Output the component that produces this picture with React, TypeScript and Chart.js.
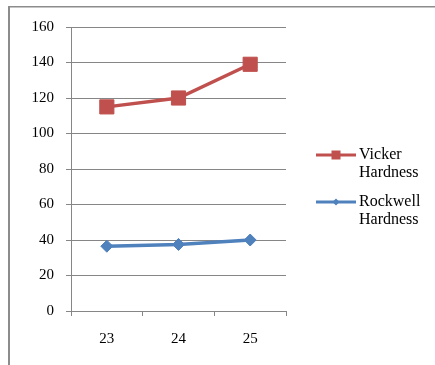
import React, { useEffect, useRef } from "react";
import { Chart, registerables } from "chart.js";

Chart.register(...registerables);

// Hardness readings per sample
const categories = ["23", "24", "25"];
const vickerHardness = [115, 120, 139];
const rockwellHardness = [36.5, 37.5, 40];
const seriesLabels = [
  ["Vicker", "Hardness"],
  ["Rockwell", "Hardness"],
];
const yMin = 0;
const yMax = 160;
const yStep = 20;

const RED = "#C0504D";
const BLUE = "#4F81BD";
const GRID = "#868686";
const FONT = "'Liberation Serif'";

// Outer frame of the chart object
const framePlugin = {
  id: "frame",
  beforeDraw(chart: any) {
    const { ctx } = chart;
    ctx.save();
    ctx.fillStyle = "#ffffff";
    ctx.fillRect(0, 0, chart.width, chart.height);
    ctx.fillStyle = "#8c8c8c";
    ctx.fillRect(8, 6, 2, chart.height - 6);
    ctx.fillRect(8, 6, chart.width - 8, 1.5);
    ctx.restore();
  },
};

// Legend on the right, with two-line labels
const sideLegendPlugin = {
  id: "sideLegend",
  afterDraw(chart: any) {
    const { ctx } = chart;
    const x0 = 316;
    const x1 = 356;
    const tx = 359;
    const rows = [155, 202];
    ctx.save();
    chart.data.datasets.forEach((ds: any, i: number) => {
      const y = rows[i];
      ctx.strokeStyle = ds.borderColor;
      ctx.lineWidth = 3;
      ctx.beginPath();
      ctx.moveTo(x0, y);
      ctx.lineTo(x1, y);
      ctx.stroke();
      ctx.fillStyle = ds.pointBackgroundColor;
      const cx = (x0 + x1) / 2;
      if (ds.pointStyle === "rect") {
        ctx.fillRect(cx - 4.5, y - 4.5, 9, 9);
      } else {
        ctx.beginPath();
        ctx.moveTo(cx - 3.5, y);
        ctx.lineTo(cx, y - 3.5);
        ctx.lineTo(cx + 3.5, y);
        ctx.lineTo(cx, y + 3.5);
        ctx.closePath();
        ctx.fill();
      }
      ctx.fillStyle = "#000000";
      ctx.font = `16px ${FONT}`;
      ctx.textBaseline = "middle";
      ctx.textAlign = "left";
      seriesLabels[i].forEach((line, k) => {
        ctx.fillText(line, tx, y + k * 18);
      });
    });
    ctx.restore();
  },
};

export default function App() {
  const canvasRef = useRef<HTMLCanvasElement | null>(null);

  useEffect(() => {
    if (!canvasRef.current) return;
    const chart = new Chart(canvasRef.current, {
      type: "line",
      data: {
        labels: categories,
        datasets: [
          {
            label: seriesLabels[0].join(" "),
            data: vickerHardness,
            borderColor: RED,
            backgroundColor: RED,
            pointBackgroundColor: RED,
            pointBorderColor: RED,
            borderWidth: 3.5,
            pointStyle: "rect",
            pointRadius: 10,
            pointBorderWidth: 1,
            tension: 0,
          },
          {
            label: seriesLabels[1].join(" "),
            data: rockwellHardness,
            borderColor: BLUE,
            backgroundColor: BLUE,
            pointBackgroundColor: BLUE,
            pointBorderColor: BLUE,
            borderWidth: 3.5,
            pointStyle: "rectRot",
            pointRadius: 6,
            pointBorderWidth: 1,
            tension: 0,
          },
        ],
      },
      options: {
        animation: false,
        responsive: false,
        maintainAspectRatio: false,
        events: [],
        layout: { padding: { left: 0, top: 27, right: 149, bottom: 0 } },
        plugins: {
          legend: { display: false },
          tooltip: { enabled: false },
          title: { display: false },
        },
        scales: {
          x: {
            type: "category",
            offset: true,
            grid: {
              offset: true,
              drawOnChartArea: false,
              drawTicks: true,
              tickLength: 5,
              color: GRID,
            },
            border: { display: true, color: GRID, width: 1 },
            ticks: {
              color: "#000000",
              font: { family: FONT, size: 15 },
              padding: 14,
              maxRotation: 0,
            },
            afterFit(scale: any) {
              scale.height = 54;
            },
          },
          y: {
            min: yMin,
            max: yMax,
            grid: {
              color: GRID,
              drawTicks: true,
              tickLength: 5,
            },
            border: { display: true, color: GRID, width: 1 },
            ticks: {
              stepSize: yStep,
              color: "#000000",
              font: { family: FONT, size: 15 },
              padding: 12,
            },
            afterFit(scale: any) {
              scale.width = 71;
            },
          },
        },
      },
      plugins: [framePlugin, sideLegendPlugin],
    });
    return () => chart.destroy();
  }, []);

  return (
    <div style={{ position: "fixed", left: 0, top: 0, width: 435, height: 365 }}>
      <canvas ref={canvasRef} width={435} height={365} style={{ width: 435, height: 365 }} />
    </div>
  );
}
